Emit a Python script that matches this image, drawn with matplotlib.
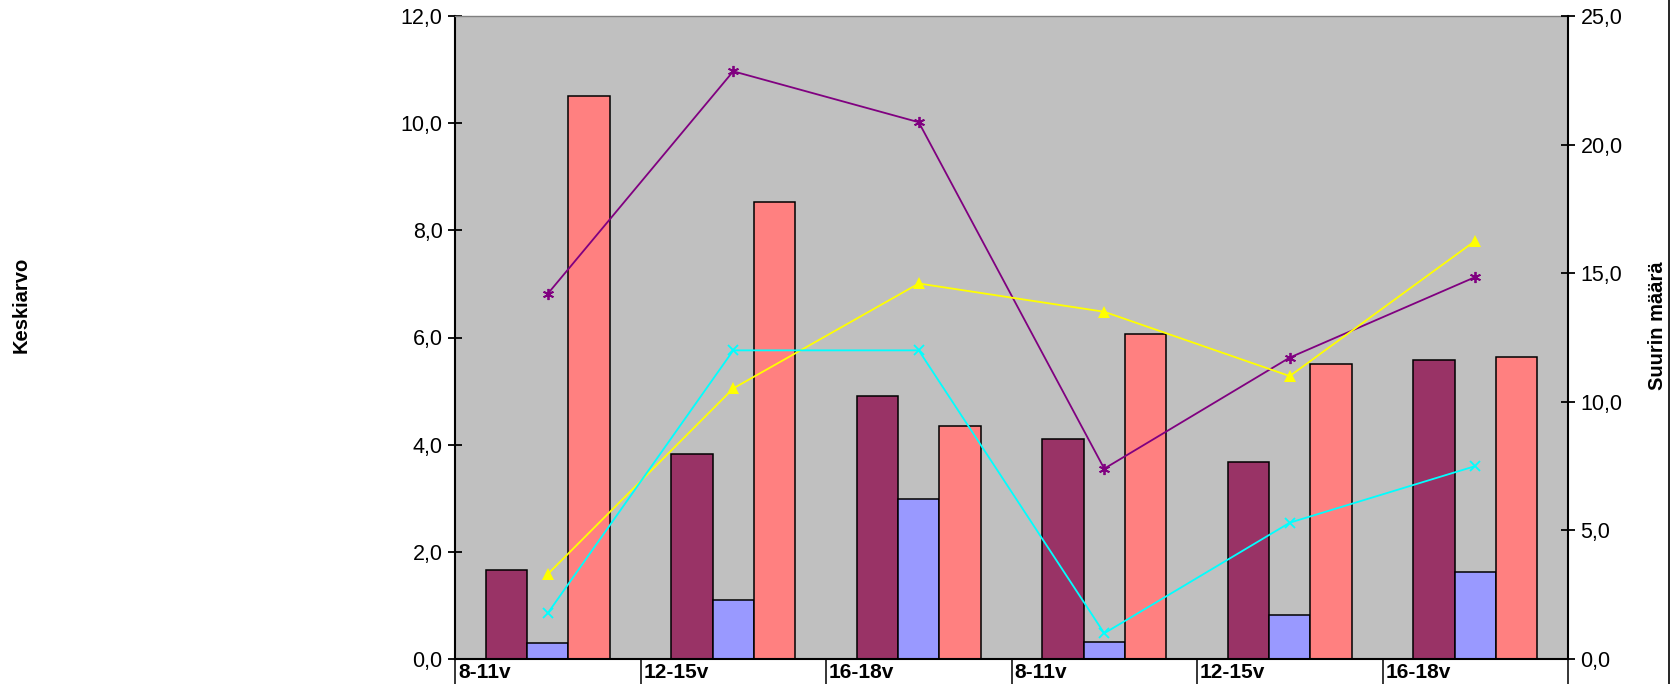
import matplotlib
matplotlib.use("Agg")
import matplotlib.pyplot as plt
from matplotlib.lines import Line2D
from matplotlib.ticker import FuncFormatter, MultipleLocator

plt.rcParams["font.family"] = ["Liberation Sans", "DejaVu Sans"]

# Age groups on the category axis
categories = ["8-11v", "12-15v", "16-18v", "8-11v", "12-15v", "16-18v"]

# Bar series: averages (left axis, "Keskiarvo")
avg_a = [1.66, 3.82, 4.90, 4.10, 3.67, 5.58]
avg_b = [0.29, 1.10, 2.98, 0.31, 0.82, 1.63]
avg_c = [10.51, 8.52, 4.35, 6.06, 5.50, 5.64]

# Line series: maximum counts (right axis, "Suurin määrä")
max_a = [14.2, 22.85, 20.87, 7.4, 11.72, 14.85]
max_b = [3.3, 10.52, 14.6, 13.5, 11.0, 16.26]
max_c = [1.78, 12.0, 12.0, 1.0, 5.3, 7.5]

W, H = 1676, 684
fig = plt.figure(figsize=(W / 100, H / 100), dpi=100)
fig.patch.set_facecolor("white")

left, right, top, bottom = 455, 1568, 16, 659
ax = fig.add_axes([left / W, 1 - bottom / H, (right - left) / W, (bottom - top) / H])
ax.set_facecolor("#C0C0C0")

n = len(categories)
x = list(range(n))
bw = 1 / 4.5

bar_kw = dict(width=bw, edgecolor="black", linewidth=1.1, zorder=2)
ax.bar([i - bw for i in x], avg_a, color="#993366", **bar_kw)
ax.bar(x, avg_b, color="#9999FF", **bar_kw)
ax.bar([i + bw for i in x], avg_c, color="#FF8080", **bar_kw)

ax.set_xlim(-0.5, n - 0.5)
ax.set_ylim(0, 12)
ax.yaxis.set_major_locator(MultipleLocator(2))
comma = FuncFormatter(lambda v, p: f"{v:.1f}".replace(".", ","))
ax.yaxis.set_major_formatter(comma)
ax.tick_params(axis="y", direction="inout", length=10, width=1.3,
               labelsize=15.5, pad=4, colors="black")

# Category axis: separators running down between the group labels
ax.set_xticks([i - 0.5 for i in range(n + 1)])
ax.set_xticklabels([])
ax.tick_params(axis="x", direction="out", length=19, width=1.1, colors="black")
for i, lab in enumerate(categories):
    ax.annotate(lab, xy=(i - 0.5, 0), xycoords=("data", "axes fraction"),
                xytext=(3, -13), textcoords="offset pixels",
                ha="left", va="center", fontsize=15, fontweight="bold")

for s in ("left", "bottom"):
    ax.spines[s].set_linewidth(1.5)
    ax.spines[s].set_color("black")
ax.spines["top"].set_color("#808080")
ax.spines["top"].set_linewidth(1.0)
ax.spines["right"].set_visible(False)

ax2 = ax.twinx()
ax2.set_ylim(0, 25)
ax2.yaxis.set_major_locator(MultipleLocator(5))
ax2.yaxis.set_major_formatter(comma)
ax2.tick_params(axis="y", direction="inout", length=10, width=1.3,
                labelsize=15.5, pad=4, colors="black")
for s in ("left", "top", "bottom"):
    ax2.spines[s].set_visible(False)
ax2.spines["right"].set_linewidth(1.5)
ax2.spines["right"].set_color("black")

line_kw = dict(linewidth=1.3, zorder=3, clip_on=False)
ax2.plot(x, max_a, color="#800080", marker=(6, 2, 0), markersize=8,
         markeredgewidth=1.3, **line_kw)
ax2.plot(x, max_b, color="#FFFF00", marker="^", markersize=9,
         markeredgewidth=0, **line_kw)
ax2.plot(x, max_c, color="#00FFFF", marker="x", markersize=7,
         markeredgewidth=1.3, **line_kw)

fig.text(21 / W, 1 - 305 / H, "Keskiarvo", rotation=90, ha="center",
         va="center", fontsize=14.5, fontweight="bold")
fig.text(1657 / W, 1 - 326 / H, "Suurin määrä", rotation=90, ha="center",
         va="center", fontsize=14.5, fontweight="bold")

# Outer frame edge on the right
fig.add_artist(Line2D([1669 / W, 1669 / W], [0, 1], color="black",
                      linewidth=1.2, transform=fig.transFigure))

fig.savefig("out.png", dpi=100, facecolor="white")
